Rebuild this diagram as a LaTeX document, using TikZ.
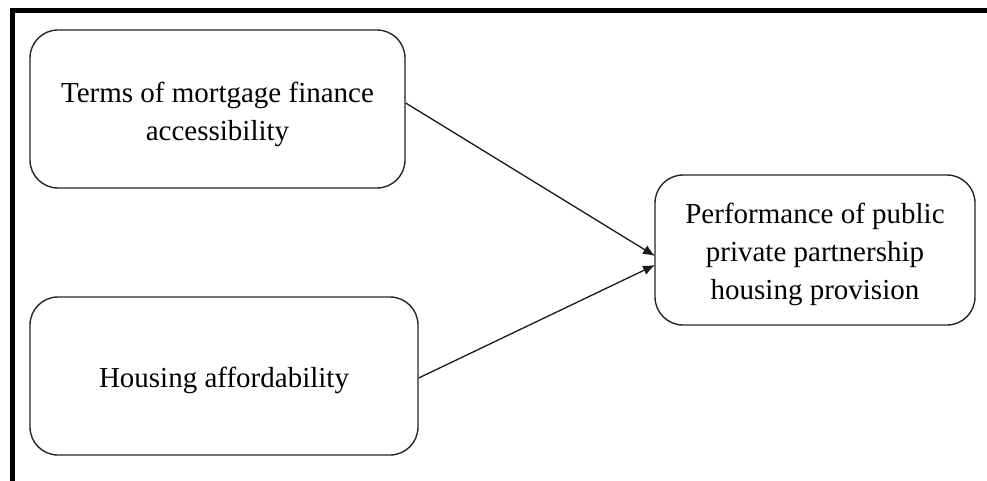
\documentclass[tikz,border=0pt]{standalone}
\usepackage{fontspec}
\setmainfont{Liberation Serif}
\usetikzlibrary{arrows.meta}
\begin{document}
\begin{tikzpicture}[x=1pt,y=-1pt,
  box/.style={draw=black!85,line width=1.4pt,rounded corners=28pt,inner sep=0pt},
  txt/.style={align=center,font=\fontsize{29}{38}\selectfont,inner sep=0pt},
  conn/.style={draw=black!90,line width=1.3pt,-{Latex[length=12pt,width=10pt]}}]
\useasboundingbox (0,0) rectangle (987,481);
\fill[white] (0,0) rectangle (987,481);
\draw[line width=5pt] (12.5,481) -- (12.5,10.5) -- (987,10.5);
\node[box,minimum width=375pt,minimum height=158pt] (a) at (217.5,109) {};
\node[box,minimum width=388pt,minimum height=158pt] (b) at (224,376) {};
\node[box,minimum width=320pt,minimum height=150pt] (c) at (815,250) {};
\node[txt] (at) at ([yshift=-5pt]a.center) {Terms of mortgage finance\\accessibility};
\node[txt] (bt) at ([yshift=-4pt]b.center) {Housing affordability};
\node[txt] (ct) at ([yshift=-4pt]c.center) {Performance of public\\private partnership\\housing provision};
\coordinate (t1) at (655,256);
\coordinate (t2) at (655,265);
\draw[conn] (a.east |- 0,103) -- (t1);
\draw[conn] (b.east |- 0,378) -- (t2);
\end{tikzpicture}
\end{document}
